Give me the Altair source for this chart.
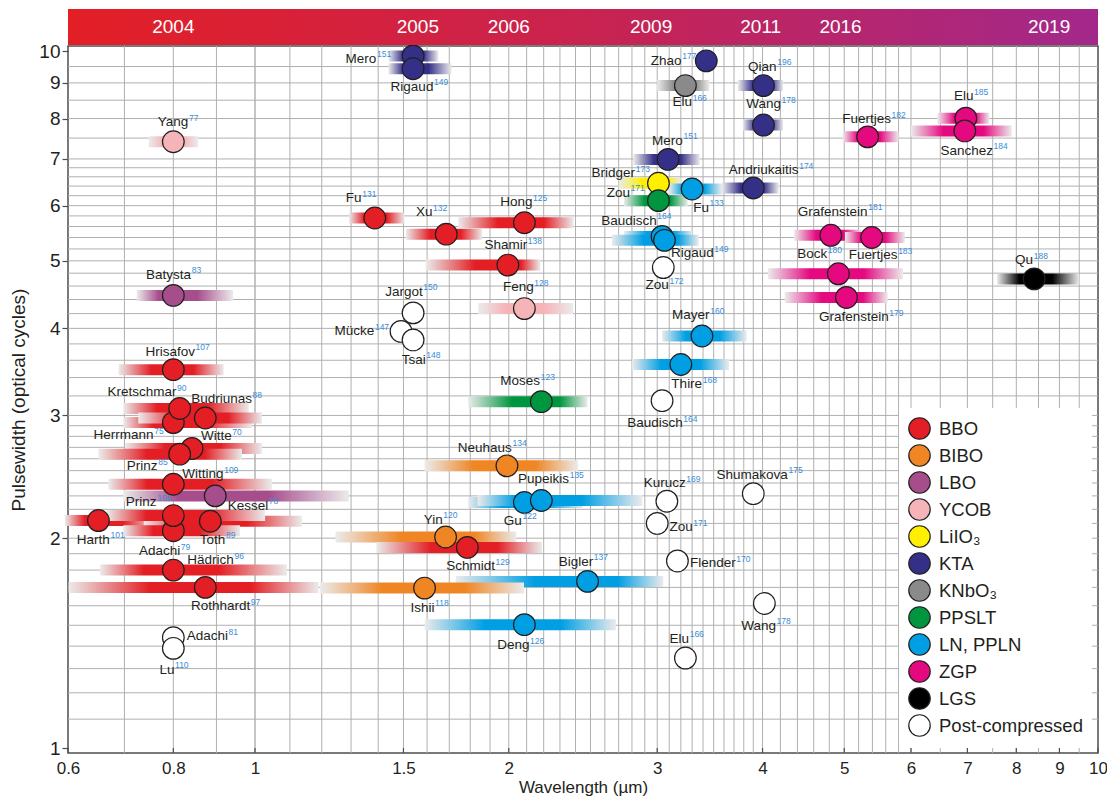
import math
import altair as alt
import pandas as pd
import numpy as np

# ---------------- data ----------------
material_names = ["BBO", "BIBO", "LBO", "YCOB", "LiIO₃", "KTA", "KNbO₃", "PPSLT",
                  "LN, PPLN", "ZGP", "LGS", "Post-compressed"]
material_colors = ["#e31e24", "#ef8523", "#a64d8c", "#f5b4b8", "#fff000", "#342f87",
                   "#8a8a8a", "#009640", "#009fe3", "#e5097f", "#000000", "#ffffff"]

author = ["Mero", "Rigaud", "Zhao", "Elu", "Qian", "Wang", "Elu", "Sanchez", "Fuertjes", "Yang",
          "Mero", "Andriukaitis", "Bridger", "Zou", "Fu", "Fu", "Xu", "Hong", "Shamir", "Baudisch",
          "Rigaud", "Grafenstein", "Fuertjes", "Bock", "Grafenstein", "Qu", "Zou", "Feng", "Jargot", "Mücke",
          "Tsai", "Batysta", "Mayer", "Thire", "Hrisafov", "Moses", "Baudisch", "Herrmann", "Kretschmar", "Budriunas",
          "Witte", "Prinz", "Neuhaus", "Witting", "Kessel", "Shumakova", "Gu", "Pupeikis", "Kurucz", "Zou",
          "Harth", "Toth", "Adachi", "Prinz", "Yin", "Schmidt", "Flender", "Hädrich", "Bigler", "Rothhardt",
          "Ishii", "Wang", "Deng", "Adachi", "Lu", "Elu"]
reference = ["151", "149", "177", "166", "196", "178", "185", "184", "182", "77",
             "151", "174", "173", "171", "133", "131", "132", "125", "138", "164",
             "149", "181", "183", "180", "179", "188", "172", "128", "150", "147",
             "148", "83", "160", "168", "107", "123", "164", "75", "90", "88",
             "70", "85", "134", "109", "78", "175", "122", "135", "169", "171",
             "101", "89", "79", "105", "120", "129", "170", "96", "137", "97",
             "118", "178", "126", "81", "110", "166"]
crystal = ["KTA", "KTA", "KTA", "KNbO₃", "KTA", "KTA", "ZGP", "ZGP", "ZGP", "YCOB",
           "KTA", "KTA", "LiIO₃", "PPSLT", "LN, PPLN", "BBO", "BBO", "BBO", "BBO", "LN, PPLN",
           "LN, PPLN", "ZGP", "ZGP", "ZGP", "ZGP", "LGS", "Post-compressed", "YCOB", "Post-compressed", "Post-compressed",
           "Post-compressed", "LBO", "LN, PPLN", "LN, PPLN", "BBO", "PPSLT", "Post-compressed", "BBO", "BBO", "BBO",
           "BBO", "BBO", "BIBO", "BBO", "LBO", "Post-compressed", "LN, PPLN", "LN, PPLN", "Post-compressed", "Post-compressed",
           "BBO", "BBO", "BBO", "BBO", "BIBO", "BBO", "Post-compressed", "BBO", "LN, PPLN", "BBO",
           "BIBO", "Post-compressed", "LN, PPLN", "Post-compressed", "Post-compressed", "Post-compressed"]
wavelength = [1.54, 1.54, 3.43, 3.24, 4.01, 4.01, 6.97, 6.95, 5.33, 0.80,
              3.09, 3.90, 3.01, 3.01, 3.30, 1.387, 1.686, 2.087, 1.995, 3.04,
              3.06, 4.82, 5.39, 4.92, 5.03, 8.40, 3.05, 2.087, 1.54, 1.49,
              1.54, 0.80, 3.39, 3.20, 0.80, 2.186, 3.04, 0.80, 0.814, 0.873,
              0.842, 0.814, 1.99, 0.80, 0.897, 3.90, 2.087, 2.186, 3.08, 3.0,
              0.652, 0.885, 0.80, 0.80, 1.683, 1.786, 3.17, 0.80, 2.48, 0.873,
              1.589, 4.02, 2.087, 0.80, 0.80, 3.24]
cycles = [9.84, 9.43, 9.68, 8.92, 8.92, 7.83, 8.01, 7.68, 7.53, 7.41,
          6.99, 6.36, 6.46, 6.10, 6.34, 5.76, 5.46, 5.67, 4.93, 5.42,
          5.35, 5.44, 5.40, 4.79, 4.43, 4.71, 4.89, 4.27, 4.21, 3.96,
          3.85, 4.46, 3.90, 3.55, 3.49, 3.14, 3.15, 2.93, 3.07, 2.975,
          2.69, 2.64, 2.54, 2.39, 2.30, 2.317, 2.25, 2.265, 2.26, 2.10,
          2.12, 2.115, 2.05, 2.155, 2.008, 1.94, 1.855, 1.80, 1.734, 1.70,
          1.696, 1.612, 1.503, 1.44, 1.39, 1.346]
band_lo = [1.44, 1.44, None, 3.0, 3.74, 3.79, 6.45, 6.0, 4.98, 0.748,
           2.81, 3.58, 2.70, 2.74, 3.10, 1.293, 1.51, 1.742, 1.594, 2.74,
           2.65, 4.36, 5.01, 4.06, 4.25, 7.59, None, 1.84, None, None,
           None, 0.724, 3.04, 2.80, 0.689, 1.79, None, 0.698, 0.698, 0.727,
           0.701, 0.652, 1.589, 0.670, 0.698, None, 1.79, 1.836, None, None,
           0.595, 0.738, 0.698, 0.667, 1.246, 1.393, None, 0.655, 1.73, 0.601,
           1.195, None, 1.59, None, None, None]
band_hi = [1.65, 1.71, None, 3.46, 4.23, 4.23, 7.43, 7.9, 5.8, 0.856,
           3.37, 4.18, 3.20, 3.26, 3.58, 1.505, 1.86, 2.387, 2.18, 3.30,
           3.36, 5.25, 5.90, 5.87, 5.63, 9.5, None, 2.385, None, None,
           None, 0.942, 3.83, 3.65, 0.918, 2.48, None, 0.992, 0.983, 1.019,
           1.019, 0.965, 2.416, 1.047, 1.292, None, 2.45, 2.88, None, None,
           0.77, 1.137, 0.960, 1.028, 2.042, 2.19, None, 1.091, 3.05, 1.19,
           2.085, None, 2.68, None, None, None]

# label placement (pixel offset of the label centre from its point)
label_dx = [-45, 6, -33, 4, 6, 7, 5, 9, 6, 4,
            6.5, 17.5, -38, -33, 16, -14, -15, -1, 5, -26,
            35, 9, 8.5, -19, 14.5, -3, 1, 1, -2, -39.5,
            7, 0, -4, 13, 4, -14, 0, -45, -33, 21,
            29, -32.7, -15, 36.7, 37.5, 6, -4.4, 9.3, 5, 31,
            2, 6.3, -9, -25, -5.5, 10.3, 42.5, 42, -4.5, 20,
            5, 1, -4, 38.7, 0.7, 1]
label_dy = [3, 18, 0, 17, -19, -21, -22, 20, -18, -20,
            -19, -18, -10, -8, 19, -20, -22, -21, -20, -16,
            13, -24, 18, -20, 20, -19, 18, -21.6, -21.6, 0,
            20, -21, -21, 20, -18.3, -21, 22.6, 12.7, -16.7, -19.3,
            -12.7, 12.3, -18.3, -10, 10, -19.3, 18.3, -21.6, -18, 3.7,
            19.3, 18.7, 20.7, -13.3, -17.3, 19.3, 2.4, -10, -20, 19.3,
            20, 22.7, 21, -1.7, 21.7, -19.4]

years = ["2004", "2005", "2006", "2009", "2011", "2016", "2019"]
year_pos = [0.80, 1.56, 2.0, 2.95, 3.98, 4.95, 8.75]

x_tick_values = [0.6, 0.8, 1, 1.5, 2, 3, 4, 5, 6, 7, 8, 9, 10]
y_tick_values = [1, 2, 3, 4, 5, 6, 7, 8, 9, 10]

x_grid = sorted(set(np.round(np.concatenate([
    np.arange(0.7, 4.0001, 0.1), np.arange(4.2, 6.0001, 0.2), np.arange(6.5, 9.6, 0.5)]), 2)))
y_grid = sorted(set(np.round(np.concatenate([
    np.arange(1.1, 3.0001, 0.1), np.arange(3.2, 7.0001, 0.2), np.arange(7.5, 9.6, 0.5)]), 2)))

# ---------------- styling helpers ----------------
FONT = "Liberation Sans, Arial, sans-serif"
NARROW = "'Liberation Sans Narrow', 'Arial Narrow', Liberation Sans, sans-serif"
TEXT = "#231f20"
SUPC = "#3a8dd8"
LIGHT = "#ebebeb"
FRAME = "#4d4d4d"
NAME_SIZE = 13.5
SUP_SIZE = 8.5
PLOT_W, PLOT_H = 1030, 707
X_DECADES = math.log10(10 / 0.6)
PX_PER_DEC_X = PLOT_W / X_DECADES
PX_PER_DEC_Y = PLOT_H / 1.0

ARIAL = {'A': 667, 'B': 667, 'C': 722, 'D': 722, 'E': 667, 'F': 611, 'G': 778, 'H': 722, 'I': 278,
         'J': 500, 'K': 667, 'L': 556, 'M': 833, 'N': 722, 'O': 778, 'P': 667, 'Q': 778, 'R': 722,
         'S': 667, 'T': 611, 'U': 722, 'V': 667, 'W': 944, 'X': 667, 'Y': 667, 'Z': 611,
         'a': 556, 'b': 556, 'c': 500, 'd': 556, 'e': 556, 'f': 278, 'g': 556, 'h': 556, 'i': 222,
         'j': 222, 'k': 500, 'l': 222, 'm': 833, 'n': 556, 'o': 556, 'p': 556, 'q': 556, 'r': 333,
         's': 500, 't': 278, 'u': 556, 'v': 500, 'w': 722, 'x': 500, 'y': 500, 'z': 500,
         'ü': 556, 'ä': 556}


def text_width(s, size):
    return sum(ARIAL.get(ch, 556) for ch in s) * size / 1000.0


color_of = dict(zip(material_names, material_colors))

rows = []
for i in range(len(author)):
    wn = text_width(author[i], NAME_SIZE)
    ws = text_width(reference[i], SUP_SIZE)
    anchor = label_dx[i] + (wn - ws) / 2.0
    rows.append(dict(i=i, author=author[i], ref=reference[i], crystal=crystal[i],
                     wl=wavelength[i], cyc=cycles[i], lo=band_lo[i], hi=band_hi[i],
                     nx=anchor, ny=label_dy[i], sx=anchor + 0.6, sy=label_dy[i] - 4.5))
pts = pd.DataFrame(rows)

xs = alt.Scale(type="log", domain=[0.6, 10], nice=False)
ys = alt.Scale(type="log", domain=[1, 10], nice=False)

x_axis = alt.Axis(values=x_tick_values, format="~g", grid=False, domain=False, ticks=False,
                  labelFont=NARROW, labelFontSize=17, labelColor=TEXT, labelPadding=7,
                  labelFlush=False, labelOverlap=False,
                  titleFont=NARROW, titleFontSize=17, titleFontWeight="normal",
                  titleColor=TEXT, titlePadding=3)
y_axis = alt.Axis(values=y_tick_values, format="d", grid=False, domain=False,
                  tickSize=6, tickColor=FRAME, tickWidth=1.2,
                  labelFont=FONT, labelFontSize=19, labelColor=TEXT, labelPadding=2,
                  labelFlush=False, labelOverlap=False,
                  titleFont=FONT, titleFontSize=19, titleFontWeight="normal",
                  titleColor=TEXT, titlePadding=10)
X_TITLE = "Wavelength (µm)"
Y_TITLE = "Pulsewidth (optical cycles)"


def X(field):
    return alt.X(field, scale=xs, axis=x_axis, title=X_TITLE)


def Y(field):
    return alt.Y(field, scale=ys, axis=y_axis, title=Y_TITLE)


layers = []

# grid lines
vgrid = alt.Chart(pd.DataFrame({"g": x_grid})).mark_rule(strokeWidth=1).encode(
    x=X("g:Q"),
    color=alt.condition(alt.datum.g == 1, alt.value("#8c8c8c"), alt.value("#b0b0b0")),
)
hgrid = alt.Chart(pd.DataFrame({"g": y_grid})).mark_rule(strokeWidth=1, color="#b0b0b0").encode(
    y=Y("g:Q"),
)
layers += [vgrid, hgrid]

# inward x ticks
xticks = alt.Chart(pd.DataFrame({"t": x_tick_values})).mark_rule(color=FRAME, strokeWidth=1.2).encode(
    x=X("t:Q"), y=alt.value(PLOT_H - 5), y2=alt.value(PLOT_H))
layers.append(xticks)

# gradient bandwidth bars
for i in range(len(author)):
    if band_lo[i] is None:
        continue
    lo, hi, w = band_lo[i], band_hi[i], wavelength[i]
    p = (math.log(w) - math.log(lo)) / (math.log(hi) - math.log(lo))
    p = min(max(p, 0.02), 0.98)
    c = color_of[crystal[i]]
    grad = {"gradient": "linear", "x1": 0, "x2": 1, "y1": 0, "y2": 0,
            "stops": [{"offset": 0, "color": LIGHT},
                      {"offset": round(0.6 * p, 4), "color": c},
                      {"offset": round(p + 0.4 * (1 - p), 4), "color": c},
                      {"offset": 1, "color": LIGHT}]}
    bar = alt.Chart(pts).transform_filter(alt.datum.i == i).mark_bar(
        orient="horizontal", size=11, fill=grad).encode(
        x=X("lo:Q"), x2="hi:Q", y=Y("cyc:Q"))
    layers.append(bar)

# points
points = alt.Chart(pts).mark_point(filled=True, shape="circle", size=470, stroke=TEXT,
                                   strokeWidth=1.2, opacity=1).encode(
    x=X("wl:Q"),
    y=Y("cyc:Q"),
    fill=alt.Fill("crystal:N", scale=alt.Scale(domain=material_names, range=material_colors),
                  legend=alt.Legend(title=None, orient="none", legendX=831, legendY=362,
                                    fillColor="white", padding=9, symbolType="circle",
                                    symbolSize=460, symbolStrokeColor=TEXT, symbolStrokeWidth=1.2,
                                    symbolOpacity=1, labelFont=FONT, labelFontSize=18.5,
                                    labelColor=TEXT, labelOffset=8, rowPadding=0,
                                    labelLimit=300)),
    order=alt.Order("i:Q"),
)
layers.append(points)

# labels: name + superscript reference (pixel offsets converted through the log scales)
names = alt.Chart(pts).transform_calculate(
    lx=f"datum.wl * pow(10, datum.nx / {PX_PER_DEC_X})",
    ly=f"datum.cyc * pow(10, -datum.ny / {PX_PER_DEC_Y})",
).mark_text(align="right", baseline="middle", font=FONT,
            fontSize=NAME_SIZE, color=TEXT).encode(
    x=X("lx:Q"), y=Y("ly:Q"), text="author:N")
sups = alt.Chart(pts).transform_calculate(
    lx=f"datum.wl * pow(10, datum.sx / {PX_PER_DEC_X})",
    ly=f"datum.cyc * pow(10, -datum.sy / {PX_PER_DEC_Y})",
).mark_text(align="left", baseline="middle", font=FONT,
            fontSize=SUP_SIZE, color=SUPC).encode(
    x=X("lx:Q"), y=Y("ly:Q"), text="ref:N")
layers += [names, sups]

# year bar on top
year_grad = {"gradient": "linear", "x1": 0, "x2": 1, "y1": 0, "y2": 0,
             "stops": [{"offset": 0, "color": "#e31f26"},
                       {"offset": 0.5, "color": "#c92350"},
                       {"offset": 1, "color": "#a3288b"}]}
ybar = alt.Chart(pd.DataFrame({"a": [0.6], "b": [10]})).mark_rect(fill=year_grad).encode(
    x=X("a:Q"), x2="b:Q", y=alt.value(-37), y2=alt.value(-1))
ytext = alt.Chart(pd.DataFrame({"year": years, "pos": year_pos})).mark_text(
    font=FONT, fontSize=19, color="white", baseline="middle").encode(
    x=X("pos:Q"), y=alt.value(-19), text="year:N")
layers += [ybar, ytext]

chart = alt.layer(*layers).properties(
    width=PLOT_W, height=PLOT_H,
    padding={"left": 60, "top": 38, "right": 9, "bottom": 45},
    autosize=alt.AutoSizeParams(type="none"),
).configure_view(stroke=FRAME, strokeWidth=1.5)

chart.save("out.html", embed_options={"renderer": "svg", "actions": False})
